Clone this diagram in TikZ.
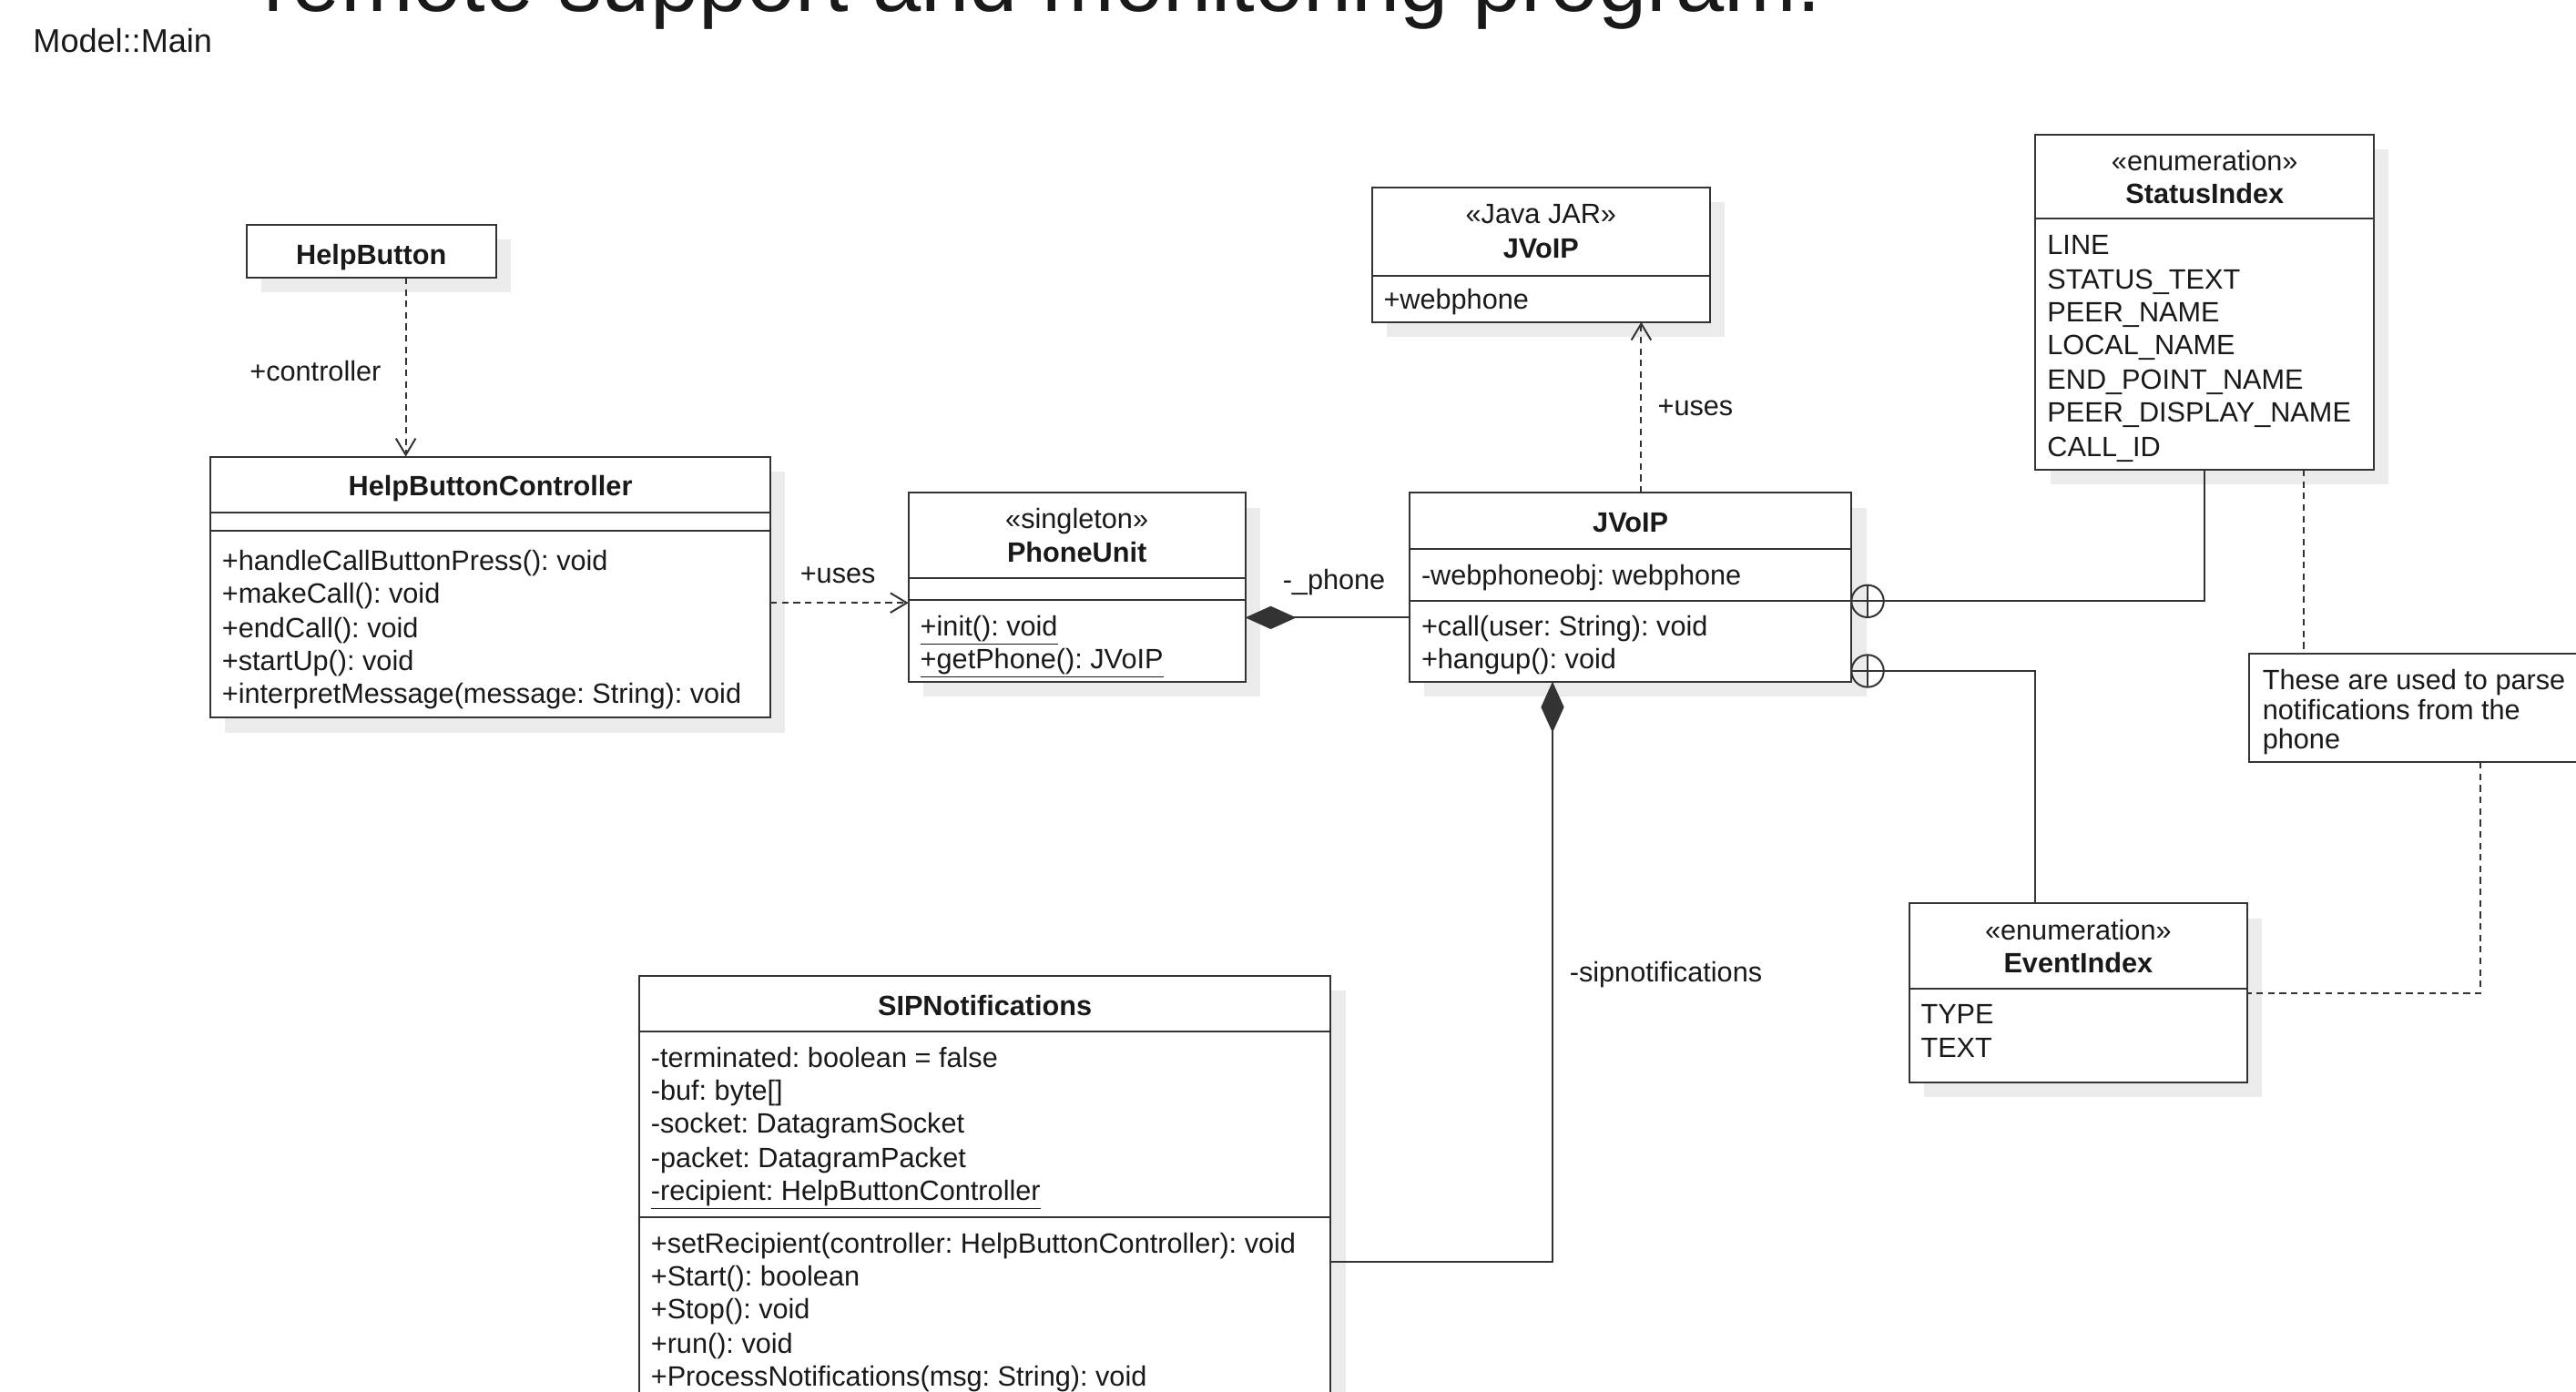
\documentclass[tikz,border=0pt]{standalone}
\usepackage{fontspec}
\setmainfont{Liberation Sans}
\usetikzlibrary{arrows.meta,shadows}
\frenchspacing
\begin{document}
\begin{tikzpicture}[x=1pt,y=-1pt,
  box/.style={draw=black!80, line width=1.1pt, fill=white, inner sep=0pt, outer sep=0pt, anchor=north west,
     drop shadow={shadow xshift=9pt, shadow yshift=-9pt, fill=black!8, opacity=1}},
  notebox/.style={draw=black!80, line width=1.1pt, fill=white, inner sep=0pt, outer sep=0pt, anchor=north west},
  sepline/.style={draw=black!80, line width=1.1pt},
  txt/.style={inner sep=0pt, font=\fontsize{17}{20.3}\selectfont, text=black!90, anchor=base west},
  ttl/.style={inner sep=0pt, font=\fontsize{17}{20.3}\selectfont\bfseries, text=black!90, anchor=base},
  stereo/.style={inner sep=0pt, font=\fontsize{17}{20.3}\selectfont, text=black!90, anchor=base},
  lbl/.style={inner sep=0pt, font=\fontsize{17}{20.3}\selectfont, text=black!90, anchor=base},
  dep/.style={draw=black!80, line width=1.1pt, dash pattern=on 4pt off 3pt,
     -{Straight Barb[length=10pt,width=12pt,line width=1.1pt]}},
  assoc/.style={draw=black!80, line width=1.1pt},
  comp/.style={assoc, {Diamond[length=31pt,width=14pt]}-},
  notelink/.style={draw=black!80, line width=1.1pt, dash pattern=on 4pt off 3pt},
  nestc/.style={circle, draw=black!80, line width=1.1pt, minimum size=19.6pt, inner sep=0pt, outer sep=0pt},
]
\useasboundingbox (0,0) rectangle (1568,847);
\fill[white] (0,0) rectangle (1568,847);
\clip (0,0) rectangle (1568,847);

% title and package name
\node[inner sep=0pt, anchor=base west, font=\fontsize{53}{60}\selectfont, text=black!90] (title) at (160,7) {remote support and monitoring program.};
\node[inner sep=0pt, anchor=base west, font=\fontsize{20}{24}\selectfont, text=black!90] (pkg) at (20,32) {Model::Main};

% HelpButton
\node[box, minimum width=152pt, minimum height=32pt] (hb) at (150,137) {};
\node[ttl] (hbt) at (226,161) {HelpButton};

% HelpButtonController
\node[box, minimum width=341pt, minimum height=159pt] (hbc) at (128,278) {};
\draw[sepline] ([yshift=-34pt]hbc.north west) -- ([yshift=-34pt]hbc.north east);
\draw[sepline] ([yshift=-45pt]hbc.north west) -- ([yshift=-45pt]hbc.north east);
\node[ttl] (hbct) at (298.5,302) {HelpButtonController};
\node[txt] (hbc1) at (135,347) {+handleCallButtonPress(): void};
\node[txt] (hbc2) at (135,367) {+makeCall(): void};
\node[txt] (hbc3) at (135,388) {+endCall(): void};
\node[txt] (hbc4) at (135,408) {+startUp(): void};
\node[txt] (hbc5) at (135,428) {+interpretMessage(message: String): void};

% PhoneUnit
\node[box, minimum width=205pt, minimum height=115pt] (pu) at (553,300) {};
\draw[sepline] ([yshift=-52pt]pu.north west) -- ([yshift=-52pt]pu.north east);
\draw[sepline] ([yshift=-65pt]pu.north west) -- ([yshift=-65pt]pu.north east);
\node[stereo] (pus) at (655.5,322) {«singleton»};
\node[ttl] (put) at (655.5,342) {PhoneUnit};
\node[txt] (pu1) at (560,387) {\underline{+init(): void}};
\node[txt] (pu2) at (560,407) {\underline{+getPhone(): JVoIP}};

% JVoIP
\node[box, minimum width=269pt, minimum height=115pt] (jv) at (858,300) {};
\draw[sepline] ([yshift=-34pt]jv.north west) -- ([yshift=-34pt]jv.north east);
\draw[sepline] ([yshift=-66pt]jv.north west) -- ([yshift=-66pt]jv.north east);
\node[ttl] (jvt) at (992.5,324) {JVoIP};
\node[txt] (jva) at (865,356) {-webphoneobj: webphone};
\node[txt] (jv1) at (865,387) {+call(user: String): void};
\node[txt] (jv2) at (865,407) {+hangup(): void};

% JVoIP JAR
\node[box, minimum width=206pt, minimum height=82pt] (jar) at (835,114) {};
\draw[sepline] ([yshift=-54pt]jar.north west) -- ([yshift=-54pt]jar.north east);
\node[stereo] (jars) at (938,136) {«Java JAR»};
\node[ttl] (jart) at (938,157) {JVoIP};
\node[txt] (jara) at (842,188) {+webphone};

% StatusIndex
\node[box, minimum width=206pt, minimum height=204pt] (si) at (1239,82) {};
\draw[sepline] ([yshift=-51pt]si.north west) -- ([yshift=-51pt]si.north east);
\node[stereo] (sis) at (1342,104) {«enumeration»};
\node[ttl] (sit) at (1342,124) {StatusIndex};
\node[txt] (si1) at (1246,155) {LINE};
\node[txt] (si2) at (1246,176) {STATUS\_TEXT};
\node[txt] (si3) at (1246,196) {PEER\_NAME};
\node[txt] (si4) at (1246,216) {LOCAL\_NAME};
\node[txt] (si5) at (1246,237) {END\_POINT\_NAME};
\node[txt] (si6) at (1246,257) {PEER\_DISPLAY\_NAME};
\node[txt] (si7) at (1246,278) {CALL\_ID};

% EventIndex
\node[box, minimum width=206pt, minimum height=109pt] (ei) at (1162,550) {};
\draw[sepline] ([yshift=-52pt]ei.north west) -- ([yshift=-52pt]ei.north east);
\node[stereo] (eis) at (1265,572) {«enumeration»};
\node[ttl] (eit) at (1265,592) {EventIndex};
\node[txt] (ei1) at (1169,623) {TYPE};
\node[txt] (ei2) at (1169,644) {TEXT};

% Note
\node[notebox, minimum width=240pt, minimum height=66pt] (note) at (1369,398) {};
\node[txt] (n1) at (1377,420) {These are used to parse};
\node[txt] (n2) at (1377,438) {notifications from the};
\node[txt] (n3) at (1377,456) {phone};

% SIPNotifications
\node[box, minimum width=421pt, minimum height=300pt] (sip) at (389,594) {};
\draw[sepline] ([yshift=-34pt]sip.north west) -- ([yshift=-34pt]sip.north east);
\draw[sepline] ([yshift=-147pt]sip.north west) -- ([yshift=-147pt]sip.north east);
\node[ttl] (sipt) at (599.5,618) {SIPNotifications};
\node[txt] (sa1) at (396,650) {-terminated: boolean = false};
\node[txt] (sa2) at (396,670) {-buf: byte[]};
\node[txt] (sa3) at (396,690) {-socket: DatagramSocket};
\node[txt] (sa4) at (396,711) {-packet: DatagramPacket};
\node[txt] (sa5) at (396,731) {\underline{-recipient: HelpButtonController}};
\node[txt] (sm1) at (396,763) {+setRecipient(controller: HelpButtonController): void};
\node[txt] (sm2) at (396,783) {+Start(): boolean};
\node[txt] (sm3) at (396,803) {+Stop(): void};
\node[txt] (sm4) at (396,824) {+run(): void};
\node[txt] (sm5) at (396,844) {+ProcessNotifications(msg: String): void};

% connectors
\draw[dep] ([xshift=21pt]hb.south) -- ([xshift=21pt]hb.south |- hbc.north);
\node[lbl] (l1) at (192,232) {+controller};

\draw[dep] ([yshift=-9.5pt]hbc.east) -- ([yshift=-9.5pt]hbc.east -| pu.west);
\node[lbl] (l2) at (510,355) {+uses};

\draw[comp] ([yshift=-18.5pt]pu.east) -- ([yshift=-18.5pt]pu.east -| jv.west);
\node[lbl] (l3) at (812,359) {-\_phone};

\draw[dep] ([xshift=6.5pt]jv.north) -- ([xshift=6.5pt]jv.north |- jar.south);
\node[lbl] (l4) at (1032,253) {+uses};

\node[nestc] (c1) at ([xshift=9.8pt,yshift=-8.5pt]jv.east) {};
\draw[assoc] (c1.north) -- (c1.south);
\draw[assoc] (c1.west) -- (c1.east);
\draw[assoc] (c1.east) -| (si.south);

\node[nestc] (c2) at ([xshift=9.8pt,yshift=-51pt]jv.east) {};
\draw[assoc] (c2.north) -- (c2.south);
\draw[assoc] (c2.west) -- (c2.east);
\draw[assoc] (c2.east) -| ([xshift=-26pt]ei.north);

\draw[notelink] ([xshift=60pt]si.south) -- ([xshift=60pt]si.south |- note.north);
\draw[notelink] ([xshift=21pt]note.south) |- (ei.east);

\draw[comp] ([xshift=-47.5pt]jv.south) |- ([yshift=-24pt]sip.east);
\node[lbl] (l5) at (1014,598) {-sipnotifications};
\end{tikzpicture}
\end{document}
